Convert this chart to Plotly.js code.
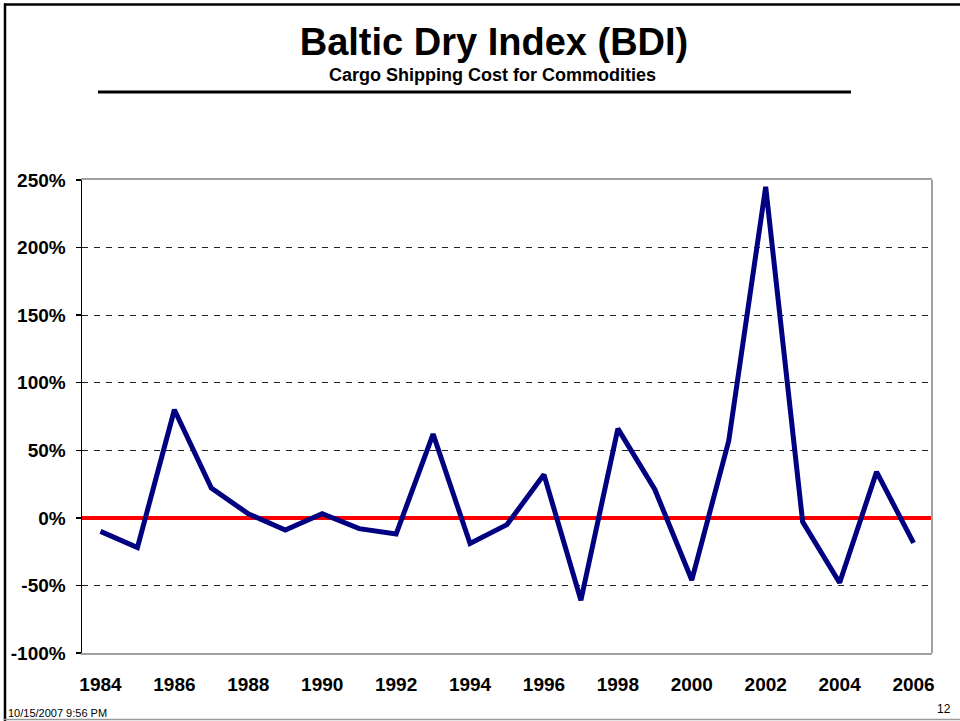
<!DOCTYPE html>
<html>
<head>
<meta charset="utf-8">
<script src="https://cdn.plot.ly/plotly-3.0.1.min.js"></script>
<style>
html,body{margin:0;padding:0;background:#fff;}
#chart{width:960px;height:721px;}
</style>
</head>
<body>
<div id="chart"></div>
<script>
var years = [1984,1985,1986,1987,1988,1989,1990,1991,1992,1993,1994,1995,1996,1997,1998,1999,2000,2001,2002,2003,2004,2005,2006];
var bdiChange = [-10,-22,80,22,3,-9,3,-8,-12,62,-19,-5,32,-61,66,21,-46,57,245,-3,-48,34,-18.5];
var yTicks = [-100,-50,0,50,100,150,200,250];

var W = 960, H = 721, L = 82, R = 932, T = 180, B = 653;
function px(x){ return (x - L) / (R - L); }
function py(y){ return (B - y) / (B - T); }

var FONT = 'Liberation Sans, Arial, Helvetica, sans-serif';

var trace = {
  x: years,
  y: bdiChange,
  type: 'scatter',
  mode: 'lines',
  line: {color: '#000080', width: 5},
  hoverinfo: 'x+y'
};

var layout = {
  width: W, height: H,
  margin: {l: L, r: W - R, t: T, b: H - B, pad: 0},
  paper_bgcolor: '#ffffff',
  plot_bgcolor: '#ffffff',
  showlegend: false,
  font: {family: FONT, color: '#000'},
  title: {
    text: 'Baltic Dry Index (BDI)',
    font: {family: FONT, size: 38, weight: 'bold', color: '#000'},
    xref: 'container', yref: 'container',
    x: 494 / W, xanchor: 'center',
    y: 1 - 42 / H, yanchor: 'middle'
  },
  xaxis: {
    range: [1983.5, 2006.5],
    tick0: 1984, dtick: 2,
    tickmode: 'linear',
    showgrid: false,
    zeroline: false,
    showline: true, linecolor: '#a0a0a0', linewidth: 2, mirror: true,
    ticks: '',
    ticklabelstandoff: 13,
    tickfont: {family: FONT, size: 19, weight: 'bold', color: '#000'}
  },
  yaxis: {
    range: [-100, 250],
    tickmode: 'array', tickvals: yTicks,
    ticktext: yTicks.map(function(v){ return v + '%'; }),
    showgrid: true, gridcolor: '#222222', gridwidth: 1.2, griddash: '6px,6px',
    zeroline: true, zerolinecolor: '#ff0000', zerolinewidth: 3.5,
    showline: true, linecolor: '#000000', linewidth: 1.5,
    ticks: 'outside', ticklen: 5, tickcolor: '#000', tickwidth: 1.5,
    ticklabelstandoff: 6,
    tickfont: {family: FONT, size: 19, weight: 'bold', color: '#000'}
  },
  annotations: [
    {text: 'Cargo Shipping Cost for Commodities', xref: 'paper', yref: 'paper',
     x: px(492), y: py(75), xanchor: 'center', yanchor: 'middle', showarrow: false,
     font: {family: FONT, size: 18, weight: 'bold', color: '#000'}},
    {text: '10/15/2007 9:56 PM', xref: 'paper', yref: 'paper',
     x: px(6), y: py(713), xanchor: 'left', yanchor: 'middle', showarrow: false,
     font: {family: FONT, size: 11, color: '#000'}},
    {text: '12', xref: 'paper', yref: 'paper',
     x: px(953), y: py(709), xanchor: 'right', yanchor: 'middle', showarrow: false,
     font: {family: FONT, size: 12, color: '#000'}}
  ],
  shapes: [
    {type: 'line', xref: 'paper', yref: 'paper', x0: px(98), x1: px(851), y0: py(92), y1: py(92),
     line: {color: '#000', width: 3}},
    {type: 'line', xref: 'paper', yref: 'paper', x0: 1, x1: 1, y0: 0, y1: 1,
     line: {color: '#a0a0a0', width: 2}},
    {type: 'line', xref: 'paper', yref: 'paper', x0: px(4), x1: px(960), y0: py(4.5), y1: py(4.5),
     line: {color: '#000', width: 2.5}},
    {type: 'line', xref: 'paper', yref: 'paper', x0: px(5), x1: px(5), y0: py(3.5), y1: py(721),
     line: {color: '#000', width: 2.5}},
    {type: 'line', xref: 'paper', yref: 'paper', x0: px(4), x1: px(960), y0: py(719.5), y1: py(719.5),
     line: {color: '#999', width: 1.5}}
  ]
};

Plotly.newPlot('chart', [trace], layout, {displayModeBar: false, staticPlot: true});
</script>
</body>
</html>
